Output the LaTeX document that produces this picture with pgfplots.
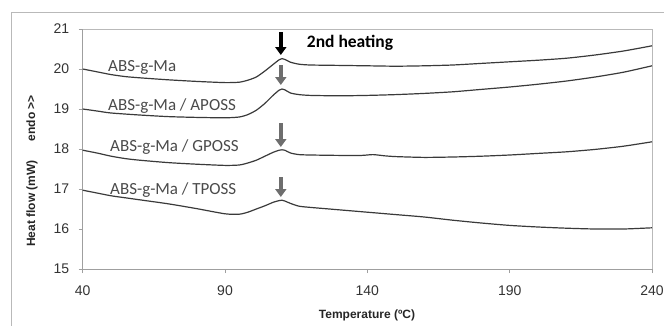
\documentclass[border=0pt]{standalone}
\usepackage{pgfplots}
\pgfplotsset{compat=1.18}
\usepackage{fontspec}
\setmainfont{Liberation Sans}
\newfontfamily\carlito{Carlito}
\usetikzlibrary{arrows.meta}
\definecolor{curve}{HTML}{3A3A3A}
\definecolor{lab}{HTML}{4A4A4A}
\definecolor{garrow}{HTML}{6E6E6E}
\begin{document}
\begin{tikzpicture}[x=1pt,y=1pt]
\useasboundingbox (0,0) rectangle (664,325);
\draw[gray!55, line width=1pt] (11,-10) rectangle (680,313);
\begin{axis}[
  at={(82.7pt,56pt)}, anchor=south west,
  scale only axis, width=569.3pt, height=240pt,
  xmin=40, xmax=240, ymin=15, ymax=21,
  xtick={40,90,140,190,240}, ytick={15,16,17,18,19,20,21},
  xtick pos=bottom, ytick pos=left, tick align=outside,
  major tick length=4pt,
  axis line style={gray!75, line width=0.8pt},
  every tick/.style={gray!75, line width=0.8pt},
  /pgf/number format/assume math mode=true,
  ticklabel style={font=\fontsize{14}{14}\selectfont, text=black!80},
  xticklabel style={yshift=-9pt},
  yticklabel style={xshift=-6pt},
  clip=false,
]
% frame top & right
\draw[gray!55, line width=0.8pt] (axis cs:40,21) -- (axis cs:240,21) -- (axis cs:240,15);
\addplot[curve, line width=1.2pt, smooth, tension=0.4] coordinates {
(40,20.0)(45,19.93)(50,19.86)(55,19.81)(60,19.78)(70,19.73)(80,19.69)(90,19.66)(95,19.67)(98,19.72)(101,19.8)(104,19.95)(107,20.12)(109,20.23)(110,20.26)(111,20.24)(113,20.17)(116,20.12)(120,20.1)(130,20.09)(140,20.08)(150,20.07)(160,20.08)(170,20.1)(180,20.14)(190,20.18)(200,20.22)(210,20.27)(220,20.35)(230,20.45)(240,20.58)};
\addplot[curve, line width=1.2pt, smooth, tension=0.4] coordinates {
(40,19.0)(45,18.95)(50,18.9)(60,18.85)(70,18.81)(80,18.79)(90,18.78)(95,18.8)(98,18.86)(101,18.97)(104,19.14)(107,19.35)(109,19.47)(110,19.5)(111,19.48)(113,19.4)(116,19.36)(120,19.34)(130,19.33)(140,19.34)(150,19.36)(160,19.39)(170,19.43)(180,19.49)(190,19.55)(200,19.62)(210,19.7)(220,19.8)(230,19.92)(240,20.08)};
\addplot[curve, line width=1.2pt, smooth, tension=0.4] coordinates {
(40,17.97)(45,17.9)(50,17.82)(55,17.76)(60,17.72)(70,17.66)(80,17.62)(90,17.59)(95,17.6)(98,17.65)(101,17.72)(104,17.82)(107,17.92)(109,17.97)(110,17.98)(111,17.97)(113,17.9)(116,17.86)(120,17.85)(130,17.84)(138,17.84)(142,17.86)(146,17.83)(150,17.81)(160,17.79)(170,17.8)(180,17.82)(190,17.85)(200,17.89)(210,17.93)(220,17.99)(230,18.07)(240,18.18)};
\addplot[curve, line width=1.2pt, smooth, tension=0.4] coordinates {
(40,16.97)(45,16.9)(50,16.83)(55,16.78)(60,16.73)(70,16.63)(80,16.51)(90,16.38)(95,16.37)(98,16.42)(101,16.5)(104,16.58)(107,16.67)(109,16.71)(110,16.72)(111,16.7)(113,16.64)(116,16.57)(120,16.54)(130,16.48)(140,16.42)(150,16.36)(160,16.3)(170,16.22)(180,16.15)(190,16.09)(200,16.05)(210,16.02)(220,16.0)(230,16.0)(240,16.03)};
% arrows
\draw[black, line width=3.8pt, -{Triangle[width=11pt,length=8pt]}] (axis cs:109.6,20.92) -- (axis cs:109.6,20.35);
\draw[garrow, line width=3.8pt, -{Triangle[width=11pt,length=8pt]}] (axis cs:109.6,20.1) -- (axis cs:109.6,19.6);
\draw[garrow, line width=3.8pt, -{Triangle[width=11pt,length=8pt]}] (axis cs:109.6,18.65) -- (axis cs:109.6,18.05);
\draw[garrow, line width=3.8pt, -{Triangle[width=11pt,length=8pt]}] (axis cs:109.6,17.3) -- (axis cs:109.6,16.8);
% labels
\node[anchor=base west, inner sep=0, text=lab, font=\carlito\fontsize{17}{17}\selectfont] at (axis cs:48.9,19.93) {ABS-g-Ma};
\node[anchor=base west, inner sep=0, text=lab, font=\carlito\fontsize{17}{17}\selectfont] at (axis cs:48.9,18.96) {ABS-g-Ma / APOSS};
\node[anchor=base west, inner sep=0, text=lab, font=\carlito\fontsize{17}{17}\selectfont] at (axis cs:49.6,17.93) {ABS-g-Ma / GPOSS};
\node[anchor=base west, inner sep=0, text=lab, font=\carlito\fontsize{17}{17}\selectfont] at (axis cs:49.6,16.87) {ABS-g-Ma / TPOSS};
\node[anchor=base west, inner sep=0, text=black, font=\carlito\bfseries\fontsize{17.5}{17.5}\selectfont] at (axis cs:118.7,20.55) {2nd heating};
\end{axis}
\node[font=\bfseries\fontsize{12}{12}\selectfont, text=black!85] at (367,10) {Temperature (ºC)};
\node[font=\bfseries\fontsize{12}{12}\selectfont, text=black!85, rotate=90] at (32,154) {Heat flow (mW)\hspace{1.6em}endo {>}{>}};
\end{tikzpicture}
\end{document}
